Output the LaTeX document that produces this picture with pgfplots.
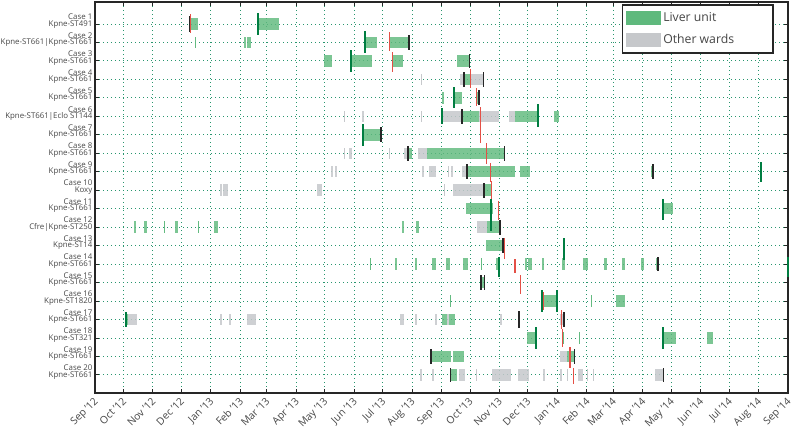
\documentclass[border=0pt]{standalone}
\usepackage{pgfplots}
\pgfplotsset{compat=1.18}
\usepackage{pgfplotstable}
\usepackage{fontspec}
\setmainfont{Open Sans}
\definecolor{lgreen}{RGB}{95,185,125}
\definecolor{lgrey}{RGB}{198,200,203}
\definecolor{dgreen}{RGB}{0,125,65}
\definecolor{mred}{RGB}{228,80,70}
\definecolor{gridc}{RGB}{40,150,110}
\definecolor{txt}{RGB}{70,70,70}

\pgfplotstableread{
y s e
1 100 109
1 172 194
2 105 106.5
2 157.3 159.1
2 160.5 164.1
2 284.8 296.8
2 310.8 330.9
3 241.6 249.7
3 269.4 291.9
3 312.6 324.9
3 381.1 394.4
4 388.5 395.9
5 366 367
5 378.3 386.4
5 401 405
6 387 405
6 442.5 466.5
6 483 489.2
7 282 301
8 329.4 334.3
8 349.5 432
9 391.6 442.5
9 447.8 458.4
9 585.9 589
9 700.5 701.8
10 409.9 418.6
11 391 419.7
11 598.8 608.7
12 41.3 42.3
12 51.6 54.4
12 72.2 73.2
12 84.6 87.5
12 108.3 109.3
12 125.4 129.9
12 323.6 324.6
12 337.9 341.7
12 412.7 426.7
13 412 429.6
14 289.3 290.3
14 316.1 318.5
14 337.2 339.6
14 355.1 359.3
14 369.8 374.1
14 388 393
14 406.5 407.5
14 422.2 426.7
14 453.3 454.3
14 456.6 460.1
14 470.6 473.1
14 492.4 495.2
14 514.5 519.1
14 536.3 539.1
14 555.3 558.2
14 575.6 578.1
14 590.8 593.5
15 406.7 410.2
16 373.6 374.6
16 470.6 487.1
16 522.1 523.1
16 548.3 558.2
17 31.6 34.4
17 365.3 371
17 373 379.3
17 493.5 494.5
18 454.8 465.3
18 493 494
18 509.5 510.5
18 597.8 611.9
18 644.5 650.8
19 353.7 375.1
19 376.9 388.8
19 497 505.1
20 374.4 381.1
}\greenbars

\pgfplotstableread{
y s e
4 343 344
4 385 388.5
4 395.9 409.2
6 262 263
6 281 283.4
6 343 344
6 365.6 387
6 404.9 425.4
6 435.9 442.5
8 262 263
8 268 270.4
8 309.3 310.3
8 325.6 329.4
8 340.3 349.5
9 248.7 249.8
9 252.6 254.3
9 344.8 345.8
9 351.9 359.3
9 371.8 372.8
9 374.8 377.5
9 386.4 391.6
10 131.7 133.5
10 135.2 140.5
10 234.2 238.8
10 367.6 368.6
10 376.9 409.9
12 402.8 412.7
17 34.4 43.9
17 131.9 132.9
17 140.9 143.6
17 160.5 169.7
17 321.4 325.6
17 337.4 338.4
17 358.4 359.4
17 371 373
17 427 428
17 490 494.2
19 490 497
20 342.7 343.7
20 355.3 356.3
20 383.6 389.9
20 401 402
20 418 438
20 446 457.6
20 472 473
20 490.2 491.2
20 497.2 498.2
20 508.6 513.8
20 518.2 519.2
20 524.5 525.5
20 590.1 598.8
}\greybars

\pgfplotstableread{
x y1 y2
99.8 0.55 1.45
330.9 1.6 2.4
394.4 2.6 3.4
388.5 3.6 4.4
409.2 3.6 4.4
404.6 4.6 5.4
387 5.6 6.4
301 6.6 7.4
329.4 7.6 8.4
431.3 7.6 8.4
391.6 8.6 9.4
587.6 8.6 9.4
409.9 9.6 10.4
426.7 11.6 12.4
429.6 12.6 13.4
592.9 13.6 14.4
406.7 14.6 15.4
410.2 14.6 15.4
446.8 16.55 17.45
494.2 16.6 17.4
353.7 18.6 19.4
505.1 18.6 19.4
374.4 19.6 20.4
598.8 19.6 20.4
}\blacklines

\pgfplotstableread{
x y1 y2
172 0.4 1.6
284.8 1.4 2.55
269.4 2.4 3.6
378.3 4.4 5.55
365.6 5.55 6.4
466.3 5.35 6.6
282 6.4 7.6
701.4 8.45 9.55
417.3 10.5 12.2
598.8 10.45 11.6
494.5 12.6 13.8
425.7 13.6 14.7
730 13.6 14.7
470.6 15.4 16.6
487.1 15.4 16.6
32.7 16.6 17.4
464.7 17.4 18.6
597.8 17.4 18.6
}\greenlines

\pgfplotstableread{
x y1 y2
100.5 0.46 1.47
310.1 1.43 2.46
313.3 2.5 3.58
395.9 3.45 4.47
401.5 4.47 5.44
406 5.5 7.44
412.7 7.44 8.6
417 8.5 9.55
417.8 9.5 10.5
425 10.6 11.6
431.3 12.6 13.7
442.5 13.7 14.5
448.6 14.6 15.6
472.4 15.5 16.5
491.2 16.5 17.5
492.4 17.5 18.5
500.3 18.5 19.6
504 19.6 20.5
}\redlines

\begin{document}
\lineskiplimit=-20pt
\begin{tikzpicture}
\begin{axis}[
  name=main,
  scale only axis,
  width=693bp, height=391bp,
  xmin=0, xmax=730,
  ymin=-0.19, ymax=20.98,
  y dir=reverse,
  clip=false,
  axis line style={line width=2bp, black!85},
  tick style={black!85, line width=0.9bp},
  major tick length=4bp,
  tick align=inside,
  grid=major,
  major grid style={color=gridc, line width=0.9bp, dash pattern=on 1bp off 3bp},
  xtick={0,30,61,91,122,153,181,212,242,273,303,334,365,395,426,456,487,518,546,577,607,638,668,699,730},
  xticklabels={Sep '12,Oct '12,Nov '12,Dec '12,Jan '13,Feb '13,Mar '13,Apr '13,May '13,Jun '13,Jul '13,Aug '13,Sep '13,Oct '13,Nov '13,Dec '13,Jan '14,Feb '14,Mar '14,Apr '14,May '14,Jun '14,Jul '14,Aug '14,Sep '14},
  xticklabel style={rotate=45, anchor=north east, font=\fontsize{10.3}{11}\selectfont, inner sep=1.2bp, xshift=-2.5bp, text=txt},
  ytick={1,...,20},
  yticklabels={
    {Case 1\\Kpne-ST491},
    {Case 2\\Kpne-ST661|Kpne-ST661},
    {Case 3\\Kpne-ST661},
    {Case 4\\Kpne-ST661},
    {Case 5\\Kpne-ST661},
    {Case 6\\Kpne-ST661|Eclo ST144},
    {Case 7\\Kpne-ST661},
    {Case 8\\Kpne-ST661},
    {Case 9\\Kpne-ST661},
    {Case 10\\Koxy},
    {Case 11\\Kpne-ST661},
    {Case 12\\Cfre|Kpne-ST250},
    {Case 13\\Kpne-ST14},
    {Case 14\\Kpne-ST661},
    {Case 15\\Kpne-ST661},
    {Case 16\\Kpne-ST1820},
    {Case 17\\Kpne-ST661},
    {Case 18\\Kpne-ST321},
    {Case 19\\Kpne-ST661},
    {Case 20\\Kpne-ST661}},
  yticklabel style={align=right, font=\fontsize{7.9}{6.4}\selectfont, inner sep=2.5bp, yshift=3bp, text=txt},
  legend style={at={(0.98,0.995)}, anchor=north east, draw=black!85, line width=1.8bp,
    font=\fontsize{12.3}{14}\selectfont, inner xsep=4bp, inner ysep=6bp, row sep=7bp, text=txt},
  legend cell align=left,
]
% grey bars
\addplot[forget plot, draw=none, mark=none,
  error bars/.cd, x dir=both, x explicit, error mark=none,
  error bar style={line width=11.5bp, draw=lgrey, opacity=0.85}]
  table[x expr={(\thisrow{s}+\thisrow{e})/2}, y=y, x error expr={(\thisrow{e}-\thisrow{s})/2}] {\greybars};
% green bars
\addplot[forget plot, draw=none, mark=none,
  error bars/.cd, x dir=both, x explicit, error mark=none,
  error bar style={line width=11.5bp, draw=lgreen, opacity=0.82}]
  table[x expr={(\thisrow{s}+\thisrow{e})/2}, y=y, x error expr={(\thisrow{e}-\thisrow{s})/2}] {\greenbars};
% black markers
\addplot[forget plot, draw=none, mark=none,
  error bars/.cd, y dir=both, y explicit, error mark=none,
  error bar style={line width=1.8bp, draw=black!85}]
  table[x=x, y expr={(\thisrow{y1}+\thisrow{y2})/2}, y error expr={(\thisrow{y2}-\thisrow{y1})/2}] {\blacklines};
% green markers
\addplot[forget plot, draw=none, mark=none,
  error bars/.cd, y dir=both, y explicit, error mark=none,
  error bar style={line width=2bp, draw=dgreen}]
  table[x=x, y expr={(\thisrow{y1}+\thisrow{y2})/2}, y error expr={(\thisrow{y2}-\thisrow{y1})/2}] {\greenlines};
% red markers
\addplot[forget plot, draw=none, mark=none,
  error bars/.cd, y dir=both, y explicit, error mark=none,
  error bar style={line width=1.2bp, draw=mred}]
  table[x=x, y expr={(\thisrow{y1}+\thisrow{y2})/2}, y error expr={(\thisrow{y2}-\thisrow{y1})/2}] {\redlines};

\addlegendimage{legend image code/.code={\fill[lgreen] (0bp,-6bp) rectangle (33bp,6bp);}}
\addlegendentry{\makebox[104bp][l]{Liver unit}}
\addlegendimage{legend image code/.code={\fill[lgrey] (0bp,-6bp) rectangle (33bp,6bp);}}
\addlegendentry{\makebox[104bp][l]{Other wards}}
\end{axis}
\pgfresetboundingbox
\path ([xshift=-95bp,yshift=-38bp]main.south west) rectangle ([xshift=5bp,yshift=2bp]main.north east);
\end{tikzpicture}
\end{document}
